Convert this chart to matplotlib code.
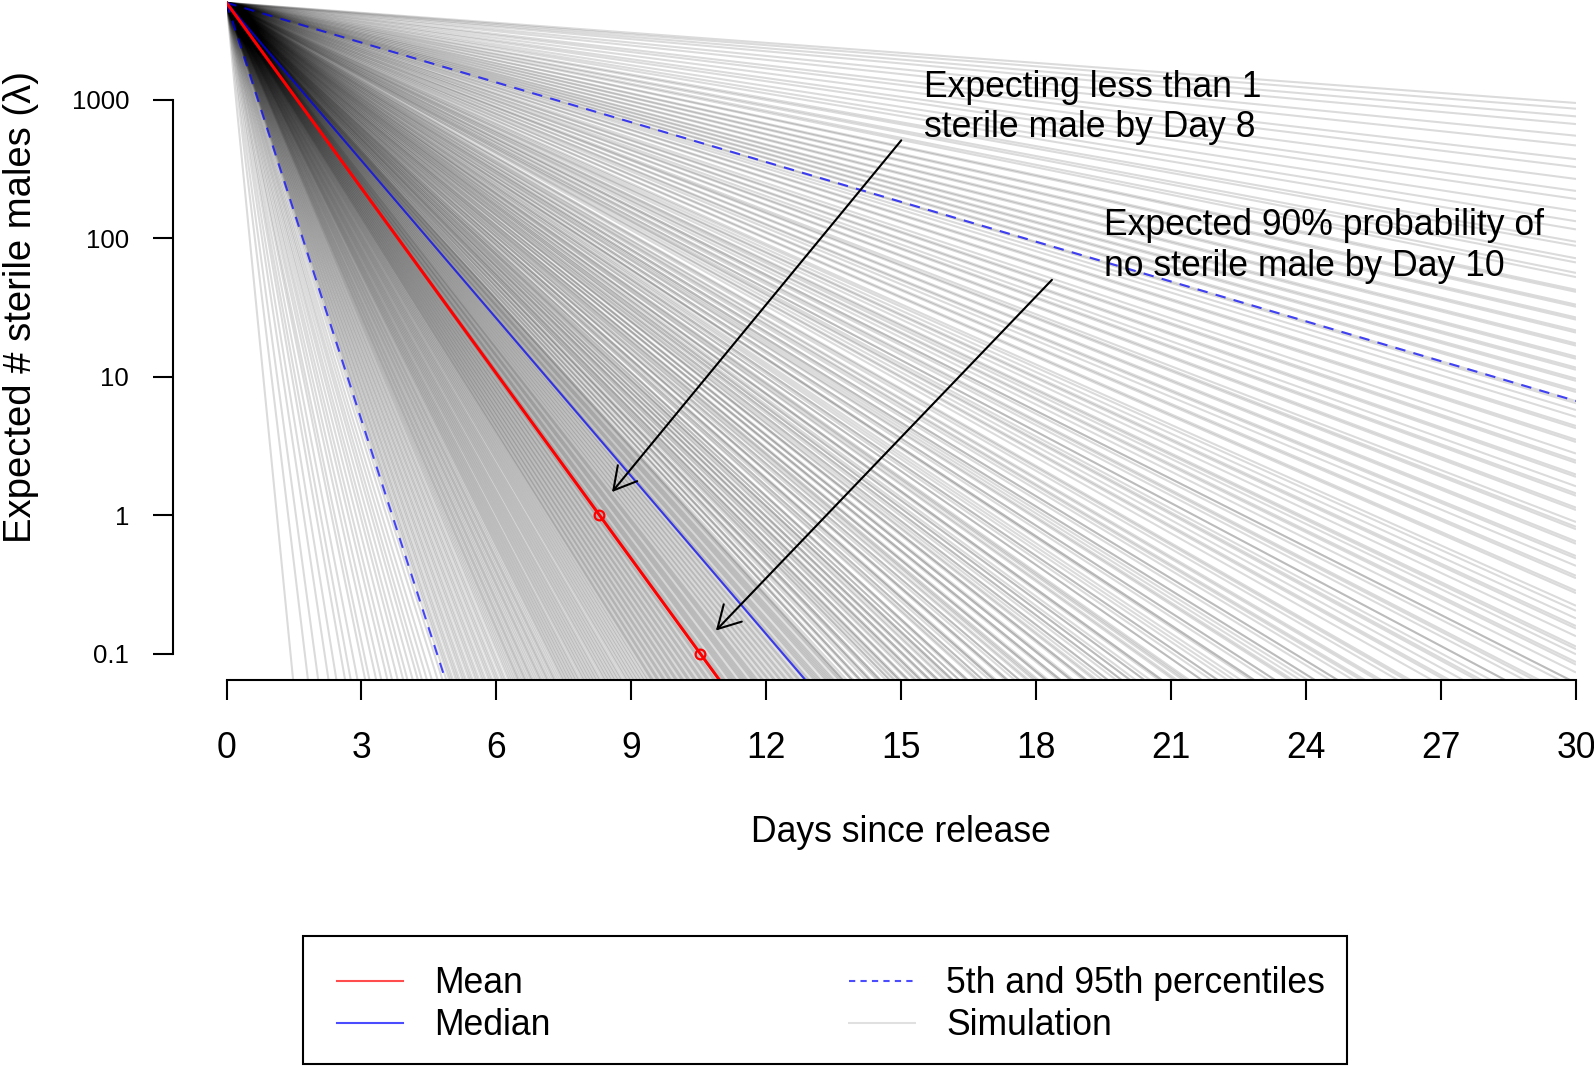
import matplotlib
matplotlib.use("Agg")
import matplotlib.pyplot as plt
from matplotlib.collections import LineCollection
from matplotlib.lines import Line2D
from matplotlib.patches import Rectangle
from matplotlib.ticker import FixedLocator, NullLocator
import numpy as np

plt.rcParams['font.family'] = ['Liberation Sans', 'DejaVu Sans']

# Nombre initial de males steriles relaches et fenetre de temps (jours)
N0 = 5000
DAYS = [0, 30]

# Survie journaliere de chaque simulation
sim_survival = [
    0.0005, 0.002, 0.004, 0.007, 0.010, 0.014, 0.017, 0.021, 0.026, 0.029,
    0.034, 0.038, 0.043, 0.047, 0.052, 0.057, 0.061, 0.066, 0.071, 0.075,
    0.080, 0.085, 0.091, 0.096,
    0.100, 0.103, 0.105, 0.107, 0.110, 0.112, 0.114, 0.117, 0.119, 0.121,
    0.124, 0.126, 0.128, 0.131, 0.133, 0.135, 0.138, 0.140, 0.142, 0.145,
    0.147, 0.149, 0.152, 0.154, 0.156, 0.159, 0.161, 0.163, 0.166, 0.168,
    0.170, 0.172, 0.174, 0.176, 0.177, 0.179, 0.181, 0.183, 0.184, 0.186,
    0.188, 0.190, 0.191, 0.193, 0.195, 0.197, 0.199, 0.200, 0.202, 0.204,
    0.206, 0.207, 0.209, 0.211, 0.213, 0.214, 0.216, 0.218,
    0.220, 0.222, 0.223, 0.225, 0.226, 0.228, 0.229, 0.231, 0.232, 0.234,
    0.235, 0.237, 0.238, 0.240, 0.242, 0.243, 0.245, 0.246, 0.248, 0.249,
    0.251, 0.252, 0.254, 0.255, 0.257, 0.258,
    0.260, 0.262, 0.263, 0.265, 0.266, 0.268, 0.269, 0.271, 0.272, 0.274,
    0.275, 0.277, 0.278, 0.280, 0.282, 0.283, 0.285, 0.286, 0.288, 0.289,
    0.291, 0.292, 0.294, 0.295, 0.297, 0.298,
    0.300, 0.301, 0.303, 0.304, 0.305, 0.306, 0.308, 0.309, 0.310, 0.311,
    0.313, 0.314, 0.315, 0.316, 0.318, 0.319, 0.320, 0.321, 0.323, 0.324,
    0.325, 0.326, 0.328, 0.329,
    0.330, 0.331, 0.333, 0.334, 0.335, 0.336, 0.338, 0.339, 0.340, 0.341,
    0.343, 0.344, 0.345, 0.346, 0.348, 0.349, 0.350, 0.351, 0.353, 0.354,
    0.355, 0.356, 0.358, 0.359,
    0.360, 0.361, 0.362, 0.363, 0.365, 0.366, 0.367, 0.368, 0.369, 0.370,
    0.371, 0.373, 0.374, 0.375, 0.376, 0.377, 0.378, 0.379, 0.381, 0.382,
    0.383, 0.384,
    0.385, 0.386, 0.388, 0.389, 0.390, 0.392, 0.393, 0.394, 0.396, 0.397,
    0.398, 0.400, 0.401, 0.402, 0.404, 0.405, 0.406, 0.408, 0.409, 0.410,
    0.412, 0.413, 0.414, 0.416,
    0.417, 0.418, 0.419, 0.420, 0.422, 0.423, 0.424, 0.425, 0.426, 0.427,
    0.429, 0.430, 0.431, 0.432, 0.433, 0.434, 0.435, 0.437, 0.438, 0.439,
    0.440, 0.440, 0.442, 0.445, 0.445, 0.446, 0.449, 0.450, 0.450, 0.453,
    0.455, 0.455, 0.456, 0.459, 0.460, 0.461, 0.461, 0.464, 0.466, 0.466,
    0.468, 0.469,
    0.471, 0.471, 0.472, 0.475, 0.476, 0.476, 0.479, 0.480, 0.482, 0.482,
    0.483, 0.486, 0.487, 0.487, 0.490, 0.491, 0.491, 0.494, 0.495, 0.497,
    0.498, 0.498,
    0.501, 0.501, 0.504, 0.505, 0.505, 0.509, 0.510, 0.512, 0.512, 0.515,
    0.517, 0.517, 0.518, 0.522, 0.523, 0.523, 0.526, 0.528, 0.528, 0.531,
    0.532, 0.534,
    0.535, 0.536, 0.539, 0.539, 0.540, 0.544, 0.545, 0.545, 0.549, 0.549,
    0.550, 0.554, 0.555, 0.555, 0.558, 0.559, 0.561, 0.563, 0.563, 0.566,
    0.568, 0.568,
    0.571, 0.571, 0.573, 0.576, 0.576, 0.578, 0.581, 0.582, 0.582, 0.586,
    0.587, 0.589, 0.590, 0.591, 0.595, 0.595, 0.598, 0.600, 0.600, 0.603,
    0.605, 0.607,
    0.610, 0.611, 0.611, 0.615, 0.617, 0.617, 0.621, 0.622, 0.624, 0.626,
    0.628, 0.628, 0.632, 0.634, 0.634, 0.638, 0.640, 0.641, 0.644, 0.645,
    0.649, 0.651, 0.652, 0.657,
    0.660, 0.661, 0.664, 0.667, 0.668, 0.670, 0.673, 0.673, 0.677, 0.679,
    0.680, 0.684, 0.686, 0.686, 0.690, 0.693, 0.694, 0.697, 0.699, 0.700,
    0.704, 0.707, 0.708, 0.711, 0.714, 0.716,
    0.721, 0.722, 0.727, 0.728, 0.732, 0.735, 0.736, 0.741, 0.742, 0.747,
    0.748, 0.750, 0.755, 0.756, 0.761, 0.762, 0.765, 0.769, 0.770, 0.775,
    0.776, 0.779, 0.784, 0.785, 0.790, 0.791, 0.795, 0.798,
    0.801, 0.802, 0.806, 0.807, 0.811, 0.812, 0.816, 0.817, 0.821, 0.822,
    0.827, 0.828, 0.833, 0.834, 0.839, 0.840, 0.845, 0.846, 0.852, 0.853,
    0.859, 0.861, 0.866, 0.868, 0.874, 0.876, 0.882, 0.886, 0.891, 0.897,
    0.901, 0.907, 0.913, 0.917, 0.924, 0.929, 0.935, 0.939, 0.943, 0.946,
]

# Resumes des simulations
mean_survival = 0.358
median_survival = 0.417
p05_survival = 0.099
p95_survival = 0.802
mean_marks = [1, 0.1]

x_ticks = list(range(0, 31, 3))
y_ticks = [0.1, 1, 10, 100, 1000]
y_ticklabels = ["0.1", "1", "10", "100", "1000"]

FS = 25.6
W, H = 1594, 1068


def curve(p):
    t = np.array(DAYS, dtype=float)
    return N0 * p ** t


fig = plt.figure(figsize=(W / 100, H / 100), dpi=100)
ax = fig.add_axes([226.5 / W, 1 - 679.5 / H, (1576 - 226.5) / W, 679.5 / H])
ax.set_yscale('log')

segs = [np.column_stack([DAYS, curve(p)]) for p in sim_survival]
ax.add_collection(LineCollection(segs, colors='black', alpha=0.14, linewidths=1.5))

ax.plot(DAYS, curve(p05_survival), color='blue', alpha=0.7, lw=1.5, dashes=(5, 4))
ax.plot(DAYS, curve(p95_survival), color='blue', alpha=0.7, lw=1.5, dashes=(5, 4))
ax.plot(DAYS, curve(median_survival), color='blue', alpha=0.7, lw=1.5)
ax.plot(DAYS, curve(mean_survival), color='red', lw=2.2)

# jours ou la moyenne passe sous 1 et 0.1 male
t_marks = [np.log(v / N0) / np.log(mean_survival) for v in mean_marks]
ax.plot(t_marks, mean_marks, 'o', mfc='none', mec='red', ms=7, mew=1.6)

ax.set_xlim(0, 30)
ax.set_ylim(10 ** -1.186, 10 ** 3.719)

arrow = dict(arrowstyle='->,head_length=0.8,head_width=0.45', color='black',
             lw=1.5, mutation_scale=20, shrinkA=0, shrinkB=0)
ax.annotate('', xy=(8.57, 1.47), xytext=(15.0, 508), arrowprops=arrow)
ax.annotate('', xy=(10.88, 0.147), xytext=(18.35, 50), arrowprops=arrow)
ax.text(15.5, 873, "Expecting less than 1\nsterile male by Day 8",
        ha='left', va='center', fontsize=FS)
ax.text(19.51, 87.7, "Expected 90% probability of\nno sterile male by Day 10",
        ha='left', va='center', fontsize=FS)

# axes facon R
for s in ['top', 'right']:
    ax.spines[s].set_visible(False)
ax.spines['left'].set_position(('outward', 38.7))
ax.spines['left'].set_bounds(0.1, 1000)
ax.spines['bottom'].set_bounds(0, 30)
ax.spines['left'].set_linewidth(1.5)
ax.spines['bottom'].set_linewidth(1.5)
ax.xaxis.set_major_locator(FixedLocator(x_ticks))
ax.set_xticklabels([str(x) for x in x_ticks])
ax.yaxis.set_major_locator(FixedLocator(y_ticks))
ax.yaxis.set_minor_locator(NullLocator())
ax.set_yticklabels(y_ticklabels)
ax.tick_params(axis='x', length=14.4, width=1.5, pad=23, labelsize=FS)
ax.tick_params(axis='y', length=14.4, width=1.5, pad=17, labelsize=18.5)

fig.text(901 / W, 1 - 832.6 / H, "Days since release", ha='center', va='center', fontsize=FS)
fig.text(21 / W, 1 - 307 / H, "Expected # sterile males (\u03bb)", ha='center', va='center',
         rotation=90, fontsize=27.5)

# legende : cadre trace a part, contenu sans cadre
fig.patches.append(Rectangle((303 / W, 1 - 1064 / H), (1347 - 303) / W, (1064 - 936) / H,
                             transform=fig.transFigure, fill=False, edgecolor='black', lw=1.5))
handles = [
    Line2D([], [], color='red', lw=1.5, alpha=0.7),
    Line2D([], [], color='blue', lw=1.5, alpha=0.7),
    Line2D([], [], color='blue', lw=1.5, alpha=0.7, dashes=(3, 2.5)),
    Line2D([], [], color='black', lw=1.5, alpha=0.12),
]
labels = ["Mean", "Median", "5th and 95th percentiles", "Simulation"]
fig.legend(handles, labels, loc='upper left', bbox_to_anchor=(336.5 / W, 1 - 966 / H),
           ncol=2, frameon=False, fontsize=FS, handlelength=1.86, handletextpad=0.88,
           columnspacing=8.4, borderpad=0, labelspacing=0.2, borderaxespad=0)

plt.savefig("out.png", dpi=100)
